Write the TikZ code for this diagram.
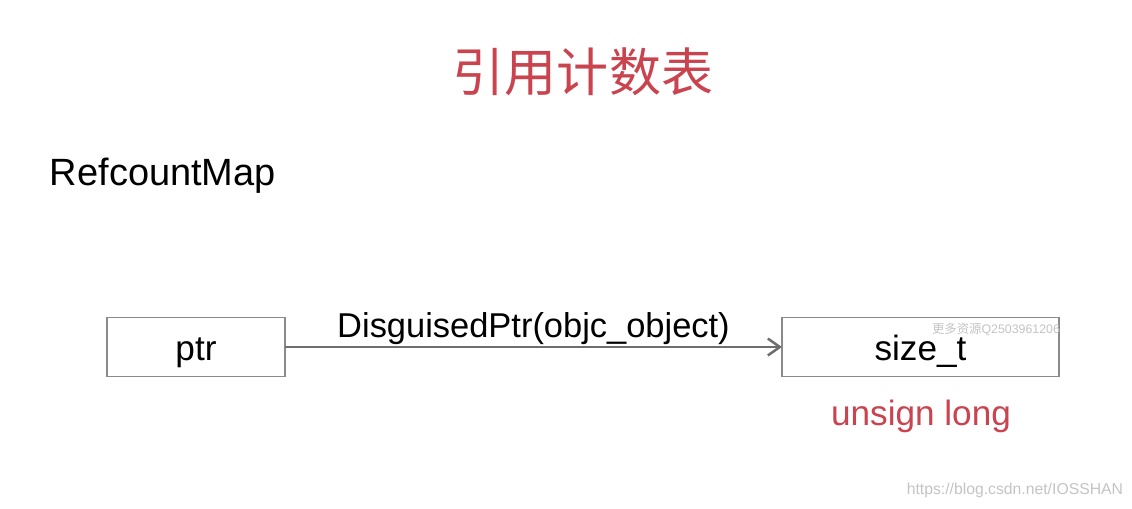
\documentclass[tikz,border=0pt]{standalone}
\usepackage{fontspec}
\setmainfont{Liberation Sans}
\newfontfamily\cjk{Noto Sans CJK SC}
\usetikzlibrary{arrows.meta,positioning}
\definecolor{titlered}{HTML}{C9444F}
\definecolor{boxgray}{HTML}{8A8A8A}
\definecolor{arrowgray}{HTML}{6E6E6E}
\definecolor{markgray}{HTML}{C4C4C4}
\tikzset{keybox/.style={rectangle,draw=boxgray,line width=1.1pt,inner sep=0pt,text height=23.5pt,text depth=4.5pt,font=\fontsize{25}{30}\selectfont}}
\tikzset{every node/.style={inner sep=0pt,outer sep=0pt}}

\begin{document}
\begin{tikzpicture}[x=0.025cm,y=-0.025cm]
% \draw[help lines] (0,0) grid (1132,508);
\useasboundingbox[fill=white] (0,0) rectangle (1132,508);
\node (title) [text=titlered,font=\cjk\fontsize{37}{40}\selectfont] at (583,72) {引用计数表};
\node (mapname) [anchor=base west,font=\fontsize{27}{32}\selectfont] at (50,185) {RefcountMap};
%
\node (ptr) [keybox,minimum width=178*0.025cm,minimum height=59*0.025cm] at (196,347) {ptr};
\node (sizet) [keybox,minimum width=277*0.025cm,minimum height=59*0.025cm] at (920.5,347) {size\_t};
\node (ulong) [anchor=base,text=titlered,font=\fontsize{25}{30}\selectfont] at (921,425) {unsign long};
%
\draw[-{Straight Barb[length=8.5pt,width=12pt,line width=1.8pt]},draw=arrowgray,line width=1.4pt] (ptr) -- node[above,inner sep=2pt,text=black,font=\fontsize{24.5}{30}\selectfont] {DisguisedPtr(objc\_object)} (sizet);
%
\node (qqmark) [anchor=east,text=markgray,font=\fontsize{8.8}{10}\selectfont] at (1060,329) {{\cjk 更多资源}Q2503961206};
\node (urlmark) [anchor=east,text=markgray,font=\fontsize{11.2}{13}\selectfont] at (1123,490) {https://blog.csdn.net/IOSSHAN};
\end{tikzpicture}
\end{document}
